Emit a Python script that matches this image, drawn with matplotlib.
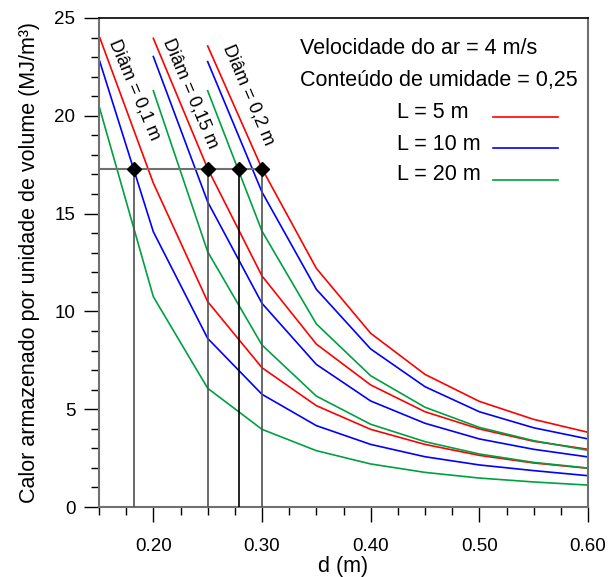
import matplotlib.pyplot as plt
from matplotlib.ticker import MultipleLocator, FormatStrFormatter


# create data

# x axis (d in m)
d_01 = [0.15, 0.20, 0.25, 0.30, 0.35, 0.40, 0.45, 0.50, 0.55, 0.60]
d_015 = [0.20, 0.25, 0.30, 0.35, 0.40, 0.45, 0.50, 0.55, 0.60]
d_02 = [0.25, 0.30, 0.35, 0.40, 0.45, 0.50, 0.55, 0.60]

# Diam = 0,1 m
red_01 = [24.1, 16.56, 10.5, 7.12, 5.18, 3.97, 3.2, 2.64, 2.25, 1.98]
blue_01 = [22.9, 14.07, 8.62, 5.76, 4.16, 3.2, 2.57, 2.15, 1.86, 1.6]
green_01 = [20.5, 10.75, 6.07, 3.97, 2.88, 2.2, 1.77, 1.48, 1.28, 1.12]

# Diam = 0,15 m
red_015 = [23.96, 17.3, 11.81, 8.33, 6.24, 4.87, 3.99, 3.36, 2.95]
blue_015 = [23.03, 15.6, 10.41, 7.29, 5.42, 4.28, 3.48, 2.95, 2.56]
green_015 = [21.28, 13.05, 8.28, 5.67, 4.23, 3.34, 2.71, 2.28, 1.99]

# Diam = 0,2 m
red_02 = [23.57, 17.3, 12.2, 8.88, 6.78, 5.40, 4.48, 3.82]
blue_02 = [22.77, 16.1, 11.13, 8.08, 6.15, 4.87, 4.05, 3.48]
green_02 = [21.28, 14.1, 9.36, 6.71, 5.10, 4.07, 3.39, 2.9]

# marked points
mark_x = [0.182, 0.25, 0.279, 0.30]
mark_y = 17.3


# create plot

plt.rcParams["font.family"] = ["Liberation Sans", "DejaVu Sans"]

fig = plt.figure(figsize=(6.1, 5.77), dpi=100)
ax = fig.add_axes([99 / 610, 70 / 577, 489 / 610, 489 / 577])

red = "#ff0000"
blue = "#0000ff"
green = "#00a040"
lw = 1.2

# curves
ax.plot(d_01, red_01, color=red, linewidth=lw)
ax.plot(d_01, blue_01, color=blue, linewidth=lw)
ax.plot(d_01, green_01, color=green, linewidth=lw)
ax.plot(d_015, red_015, color=red, linewidth=lw)
ax.plot(d_015, blue_015, color=blue, linewidth=lw)
ax.plot(d_015, green_015, color=green, linewidth=lw)
ax.plot(d_02, red_02, color=red, linewidth=lw)
ax.plot(d_02, blue_02, color=blue, linewidth=lw)
ax.plot(d_02, green_02, color=green, linewidth=lw)

# guide lines and diamonds
ax.plot([0.15, max(mark_x)], [mark_y, mark_y], color="#707070", linewidth=1.5, zorder=3)
for x in mark_x:
    c = "black" if x == 0.279 else "#505050"
    ax.plot([x, x], [0, mark_y], color=c, linewidth=1.2, zorder=3)
ax.plot(mark_x, [mark_y] * len(mark_x), "D", color="black", markersize=7, zorder=4)

# diameter labels
ax.text(0.1825, 21.32, "Diâm = 0,1 m", rotation=-67, fontsize=13,
        ha="center", va="center", rotation_mode="anchor")
ax.text(0.2340, 21.15, "Diâm = 0,15 m", rotation=-67, fontsize=13,
        ha="center", va="center", rotation_mode="anchor")
ax.text(0.2875, 21.06, "Diâm = 0,2 m", rotation=-67, fontsize=13,
        ha="center", va="center", rotation_mode="anchor")

# legend block
ax.text(0.411, 0.938, "Velocidade do ar = 4 m/s", transform=ax.transAxes,
        fontsize=15.5, va="center", ha="left")
ax.text(0.411, 0.873, "Conteúdo de umidade = 0,25", transform=ax.transAxes,
        fontsize=15.5, va="center", ha="left")
labels = ["L = 5 m", "L = 10 m", "L = 20 m"]
label_y = [0.806, 0.742, 0.679]
line_y = [0.798, 0.735, 0.669]
for lab, ty, ly, c in zip(labels, label_y, line_y, [red, blue, green]):
    ax.text(0.609, ty, lab, transform=ax.transAxes, fontsize=15.5, va="center", ha="left")
    ax.plot([0.805, 0.939], [ly, ly], transform=ax.transAxes, color=c, linewidth=lw)

# axes
ax.set_xlim(0.15, 0.60)
ax.set_ylim(0, 25)
ax.xaxis.set_major_locator(MultipleLocator(0.1))
ax.xaxis.set_minor_locator(MultipleLocator(0.025))
ax.xaxis.set_major_formatter(FormatStrFormatter("%.2f"))
ax.yaxis.set_major_locator(MultipleLocator(5))
ax.yaxis.set_minor_locator(MultipleLocator(1))

ax.set_xlabel("d (m)", fontsize=15.5, labelpad=1)
ax.set_ylabel("Calor armazenado por unidade de volume (MJ/m³)", fontsize=15.5, labelpad=10)

ax.tick_params(axis="both", which="major", direction="out", length=11, width=1,
               labelsize=13.5, color="black")
ax.tick_params(axis="both", which="minor", direction="out", length=6, width=1,
               color="black")
ax.tick_params(axis="x", which="major", pad=11)
ax.tick_params(axis="y", which="major", pad=6)

for side in ["left", "bottom", "right"]:
    ax.spines[side].set_color("#707070")
    ax.spines[side].set_linewidth(1.5)
ax.spines["top"].set_color("black")
ax.spines["top"].set_linewidth(1.2)

fig.savefig("out.png", dpi=100)
